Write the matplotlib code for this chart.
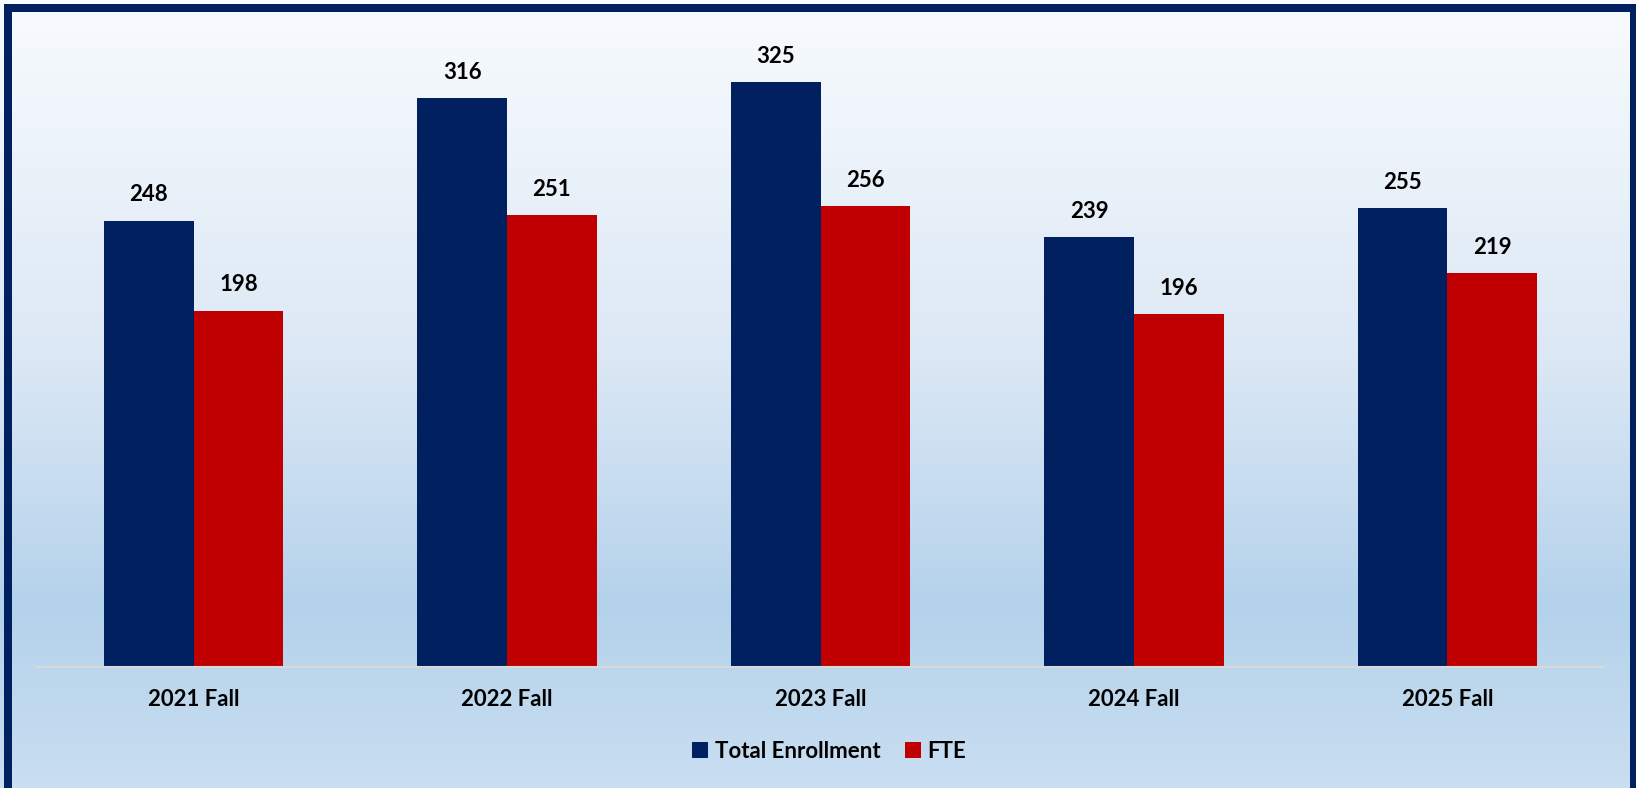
import numpy as np
import matplotlib.pyplot as plt
from matplotlib.colors import LinearSegmentedColormap
from matplotlib.patches import Rectangle

categories = ["2021 Fall", "2022 Fall", "2023 Fall", "2024 Fall", "2025 Fall"]
total_enrollment = [248, 316, 325, 239, 255]
fte = [198, 251, 256, 196, 219]
series_names = ["Total Enrollment", "FTE"]

NAVY = "#002060"
RED = "#C00000"
W, H = 1636, 788

plt.rcParams['font.family'] = ['Lato', 'DejaVu Sans']

fig = plt.figure(figsize=(W / 100, H / 100), dpi=100)
fig.patch.set_facecolor("#E8E8E8")

# background gradient
bg = fig.add_axes([0, 0, 1, 1], zorder=0)
grad = LinearSegmentedColormap.from_list(
    "bg", [(0, "#F8FBFE"), (0.45, "#DCE8F5"), (0.77, "#B4D2EB"), (1.0, "#C9DEF1")])
bg.imshow(np.linspace(0, 1, 400).reshape(-1, 1), aspect="auto", cmap=grad,
          extent=[0, 1, 0, 1], origin="upper")
bg.set_xlim(0, 1)
bg.set_ylim(0, 1)
bg.axis("off")

# frame border
lw = 8 * 72 / 100
bg.add_patch(Rectangle((8 / W, -2 / H), (1634 - 8) / W, (780 + 2) / H,
                       fill=False, edgecolor=NAVY, linewidth=lw, clip_on=False))

ax = fig.add_axes([37 / W, 121 / H, 1567 / W, 630 / H], zorder=1)
ax.patch.set_alpha(0)

x = np.arange(len(categories))
bw = 0.286
b1 = ax.bar(x - bw / 2, total_enrollment, bw, color=NAVY, label=series_names[0])
b2 = ax.bar(x + bw / 2, fte, bw, color=RED, label=series_names[1])

for bars in (b1, b2):
    for r in bars:
        ax.annotate(f"{int(r.get_height())}", (r.get_x() + r.get_width() / 2, r.get_height()),
                    xytext=(0, 18.5), textcoords="offset points", ha="center", va="center",
                    fontsize=16, fontweight="bold", color="black")

ax.set_xlim(-0.5, len(categories) - 0.5)
ax.set_ylim(0, 350)
ax.set_yticks([])
ax.set_xticks(x)
ax.set_xticklabels(categories, fontsize=16, fontweight="bold")
ax.tick_params(axis="x", length=0, pad=15.5)
for s in ["top", "right", "left"]:
    ax.spines[s].set_visible(False)
ax.spines["bottom"].set_color("#D9D9D9")
ax.spines["bottom"].set_linewidth(1.5)

leg = fig.legend(handles=[b1, b2], loc="center", bbox_to_anchor=(0.507, 1 - 751 / H),
                 ncol=2, frameon=False, handlelength=0.7, handleheight=0.7,
                 handletextpad=0.3, columnspacing=1.13, prop={"weight": "bold", "size": 16})

fig.savefig("out.png", dpi=100, facecolor=fig.get_facecolor())
